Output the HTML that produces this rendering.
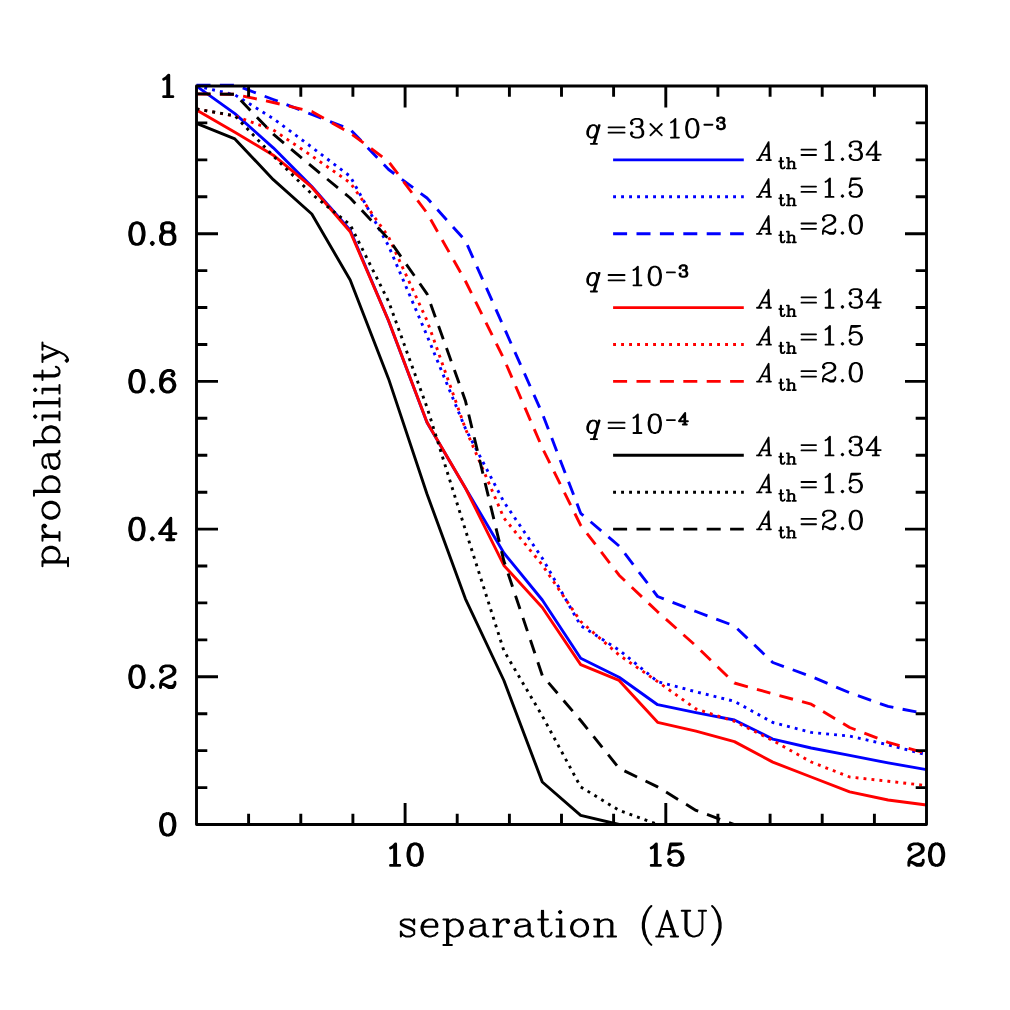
<!DOCTYPE html>
<html><head><meta charset="utf-8"><title>probability vs separation</title>
<style>html,body{margin:0;padding:0;background:#fff}body{width:1010px;height:1010px;overflow:hidden}svg{display:block}.h text{font-family:"Liberation Serif",serif;fill:#000;fill-opacity:0;stroke:none}.h .s{font-family:"Liberation Sans",sans-serif}.t{fill:none;stroke:#000;stroke-linecap:round;stroke-linejoin:round}</style></head><body>
<svg width="1010" height="1010" viewBox="0 0 1010 1010">
<rect width="1010" height="1010" fill="#fff"/>
<defs>
<clipPath id="c"><rect x="195.0" y="83.5" width="733.0" height="742.5"/></clipPath>

</defs>
<g clip-path="url(#c)" fill="none" stroke-linejoin="round" stroke-linecap="butt">
<polyline points="196.5,86.1 234.9,113.6 273.3,147.8 311.8,186.4 350.2,230.3 388.6,320.9 427.0,422.4 465.4,488.0 503.9,553.0 542.3,600.0 580.7,658.2 619.1,677.2 657.6,704.7 696.0,712.6 734.4,720.0 772.8,739.1 811.2,748.0 849.7,755.4 888.1,762.9 926.5,769.6" stroke="#0000ff" stroke-width="2.9" />
<polyline points="196.5,86.0 234.9,94.8 273.3,118.6 311.8,147.2 350.2,176.4 388.6,246.0 427.0,335.6 465.4,428.5 503.9,502.0 542.3,558.2 580.7,625.6 619.1,650.0 657.6,681.6 696.0,691.8 734.4,701.3 772.8,722.5 811.2,732.4 849.7,736.1 888.1,744.8 926.5,754.7" stroke="#0000ff" stroke-width="2.9" stroke-dasharray="2.9 5.1"/>
<polyline points="196.5,85.0 234.9,85.0 273.3,99.5 311.8,114.5 350.2,129.4 388.6,169.5 427.0,198.0 465.4,240.7 503.9,327.3 542.3,413.5 580.7,513.3 619.1,546.0 657.6,596.5 696.0,611.5 734.4,625.9 772.8,662.5 811.2,676.5 849.7,692.8 888.1,706.4 926.5,713.9" stroke="#0000ff" stroke-width="2.9" stroke-dasharray="14 9.4"/>
<polyline points="196.5,110.0 234.9,132.2 273.3,155.2 311.8,187.2 350.2,231.8 388.6,320.7 427.0,422.2 465.4,488.0 503.9,565.4 542.3,607.5 580.7,664.6 619.1,680.4 657.6,722.3 696.0,731.2 734.4,741.6 772.8,762.1 811.2,777.0 849.7,791.8 888.1,800.0 926.5,805.0" stroke="#ff0000" stroke-width="2.9" />
<polyline points="196.5,109.0 234.9,116.0 273.3,130.0 311.8,155.9 350.2,182.8 388.6,237.0 427.0,320.5 465.4,428.6 503.9,518.0 542.3,565.0 580.7,621.5 619.1,655.0 657.6,681.6 696.0,709.0 734.4,721.3 772.8,740.5 811.2,762.0 849.7,777.0 888.1,781.2 926.5,785.6" stroke="#ff0000" stroke-width="2.9" stroke-dasharray="2.9 5.1"/>
<polyline points="196.5,94.0 234.9,94.3 273.3,102.5 311.8,111.5 350.2,133.1 388.6,161.5 427.0,213.0 465.4,281.0 503.9,358.9 542.3,447.9 580.7,525.3 619.1,575.2 657.6,611.8 696.0,645.9 734.4,683.0 772.8,693.8 811.2,704.2 849.7,727.5 888.1,742.3 926.5,753.5" stroke="#ff0000" stroke-width="2.9" stroke-dasharray="14 9.4"/>
<polyline points="196.5,123.3 234.9,138.9 273.3,179.7 311.8,214.0 350.2,280.0 388.6,378.9 427.0,494.0 465.4,598.8 503.9,680.5 542.3,782.0 580.7,815.3 619.1,824.5" stroke="#000000" stroke-width="2.9" />
<polyline points="196.5,108.9 234.9,115.8 273.3,156.0 311.8,194.0 350.2,224.8 388.6,301.5 427.0,407.3 465.4,530.0 503.9,650.8 542.3,716.0 580.7,786.9 619.1,810.4 657.6,824.5" stroke="#000000" stroke-width="2.9" stroke-dasharray="2.9 5.1"/>
<polyline points="196.5,93.9 234.9,94.3 273.3,134.2 311.8,166.4 350.2,198.0 388.6,239.0 427.0,293.8 465.4,400.7 503.9,561.0 542.3,675.5 580.7,720.5 619.1,768.3 657.6,786.9 696.0,810.4 734.4,824.5" stroke="#000000" stroke-width="2.9" stroke-dasharray="14 9.4"/>
</g>
<path d="M248.6,824.5v-10.8M248.6,86.0v10.8M300.8,824.5v-10.8M300.8,86.0v10.8M352.9,824.5v-10.8M352.9,86.0v10.8M405.1,824.5v-21.5M405.1,86.0v21.5M457.2,824.5v-10.8M457.2,86.0v10.8M509.4,824.5v-10.8M509.4,86.0v10.8M561.5,824.5v-10.8M561.5,86.0v10.8M613.6,824.5v-10.8M613.6,86.0v10.8M665.8,824.5v-21.5M665.8,86.0v21.5M717.9,824.5v-10.8M717.9,86.0v10.8M770.1,824.5v-10.8M770.1,86.0v10.8M822.2,824.5v-10.8M822.2,86.0v10.8M874.4,824.5v-10.8M874.4,86.0v10.8M196.5,787.6h10.8M926.5,787.6h-10.8M196.5,750.6h10.8M926.5,750.6h-10.8M196.5,713.7h10.8M926.5,713.7h-10.8M196.5,676.8h21.5M926.5,676.8h-21.5M196.5,639.9h10.8M926.5,639.9h-10.8M196.5,602.9h10.8M926.5,602.9h-10.8M196.5,566.0h10.8M926.5,566.0h-10.8M196.5,529.1h21.5M926.5,529.1h-21.5M196.5,492.2h10.8M926.5,492.2h-10.8M196.5,455.2h10.8M926.5,455.2h-10.8M196.5,418.3h10.8M926.5,418.3h-10.8M196.5,381.4h21.5M926.5,381.4h-21.5M196.5,344.5h10.8M926.5,344.5h-10.8M196.5,307.5h10.8M926.5,307.5h-10.8M196.5,270.6h10.8M926.5,270.6h-10.8M196.5,233.7h21.5M926.5,233.7h-21.5M196.5,196.8h10.8M926.5,196.8h-10.8M196.5,159.9h10.8M926.5,159.9h-10.8M196.5,122.9h10.8M926.5,122.9h-10.8" stroke="#000" stroke-width="2.9" fill="none"/>
<rect x="196.5" y="86.0" width="730.0" height="738.5" fill="none" stroke="#000" stroke-width="2.9" stroke-linejoin="round"/>
<path class="t" transform="translate(157.46,835.15) scale(1.0270)" stroke-width="2.824" d="M9,-21L7,-20 6,-19 5,-17 4,-12 4,-9 5,-4 6,-2 7,-1 9,0 6,-1 4,-4 3,-9 3,-12 4,-17 6,-20 9,-21 11,-21 13,-20 14,-19 15,-17 16,-12 16,-9 15,-4 14,-2 13,-1 11,0 14,-1 16,-4 17,-9 17,-12 16,-17 14,-20 11,-21M9,0L11,0"/>
<path class="t" transform="translate(126.65,687.45) scale(1.0270)" stroke-width="2.824" d="M9,-21L7,-20 6,-19 5,-17 4,-12 4,-9 5,-4 6,-2 7,-1 9,0 6,-1 4,-4 3,-9 3,-12 4,-17 6,-20 9,-21 11,-21 13,-20 14,-19 15,-17 16,-12 16,-9 15,-4 14,-2 13,-1 11,0 14,-1 16,-4 17,-9 17,-12 16,-17 14,-20 11,-21M9,0L11,0M25,-2L24,-1 25,0 26,-1 25,-2M34,-17L35,-16 34,-15 33,-16 33,-17 34,-19 35,-20 38,-21 42,-21 44,-20 45,-19 46,-17 46,-15 45,-13 42,-11 36,-8 34,-6 33,-3 33,0M38,-9L43,-11 46,-13 47,-15 47,-17 46,-19 45,-20 42,-21M47,-5L47,-3 46,-2 44,-1 41,-1 36,-3 34,-3 33,-2M47,-3L46,-1 45,0 41,0 36,-3"/>
<path class="t" transform="translate(126.65,539.75) scale(1.0270)" stroke-width="2.824" d="M9,-21L7,-20 6,-19 5,-17 4,-12 4,-9 5,-4 6,-2 7,-1 9,0 6,-1 4,-4 3,-9 3,-12 4,-17 6,-20 9,-21 11,-21 13,-20 14,-19 15,-17 16,-12 16,-9 15,-4 14,-2 13,-1 11,0 14,-1 16,-4 17,-9 17,-12 16,-17 14,-20 11,-21M9,0L11,0M25,-2L24,-1 25,0 26,-1 25,-2M43,0L43,-21 32,-6 48,-6M42,-19L42,0M39,0L46,0"/>
<path class="t" transform="translate(126.65,392.05) scale(1.0270)" stroke-width="2.824" d="M9,-21L7,-20 6,-19 5,-17 4,-12 4,-9 5,-4 6,-2 7,-1 9,0 6,-1 4,-4 3,-9 3,-12 4,-17 6,-20 9,-21 11,-21 13,-20 14,-19 15,-17 16,-12 16,-9 15,-4 14,-2 13,-1 11,0 14,-1 16,-4 17,-9 17,-12 16,-17 14,-20 11,-21M9,0L11,0M25,-2L24,-1 25,0 26,-1 25,-2M45,-18L44,-17 45,-16 46,-17 46,-18 45,-20 43,-21 40,-21 37,-20 35,-18 34,-16 33,-12 33,-6 34,-3 36,-1 39,0 37,-1 35,-3 34,-6 34,-12 35,-16 36,-18 38,-20 40,-21M34,-7L35,-10 37,-12 40,-13 41,-13 43,-12 45,-10 46,-7 46,-6 45,-3 43,-1 41,0 44,-1 46,-3 47,-6 47,-7 46,-10 44,-12 41,-13M39,0L41,0"/>
<path class="t" transform="translate(126.65,244.35) scale(1.0270)" stroke-width="2.824" d="M9,-21L7,-20 6,-19 5,-17 4,-12 4,-9 5,-4 6,-2 7,-1 9,0 6,-1 4,-4 3,-9 3,-12 4,-17 6,-20 9,-21 11,-21 13,-20 14,-19 15,-17 16,-12 16,-9 15,-4 14,-2 13,-1 11,0 14,-1 16,-4 17,-9 17,-12 16,-17 14,-20 11,-21M9,0L11,0M25,-2L24,-1 25,0 26,-1 25,-2M38,-21L36,-20 35,-18 35,-15 36,-13 38,-12 35,-13 34,-15 34,-18 35,-20 38,-21 42,-21 44,-20 45,-18 45,-15 44,-13 42,-12 45,-13 46,-15 46,-18 45,-20 42,-21M38,-12L36,-11 35,-10 34,-8 34,-4 35,-2 36,-1 38,0 35,-1 34,-2 33,-4 33,-8 34,-10 35,-11 38,-12 42,-12 44,-11 45,-10 46,-8 46,-4 45,-2 44,-1 42,0 45,-1 46,-2 47,-4 47,-8 46,-10 45,-11 42,-12M38,0L42,0"/>
<path class="t" transform="translate(157.46,96.65) scale(1.0270)" stroke-width="2.824" d="M11,0L11,-21 8,-18 6,-17M10,-20L10,0M6,0L15,0"/>
<path class="t" transform="translate(384.33,865.40) scale(1.0270)" stroke-width="2.824" d="M11,0L11,-21 8,-18 6,-17M10,-20L10,0M6,0L15,0M29,-21L27,-20 26,-19 25,-17 24,-12 24,-9 25,-4 26,-2 27,-1 29,0 26,-1 24,-4 23,-9 23,-12 24,-17 26,-20 29,-21 31,-21 33,-20 34,-19 35,-17 36,-12 36,-9 35,-4 34,-2 33,-1 31,0 34,-1 36,-4 37,-9 37,-12 36,-17 34,-20 31,-21M29,0L31,0"/>
<path class="t" transform="translate(645.05,865.40) scale(1.0270)" stroke-width="2.824" d="M11,0L11,-21 8,-18 6,-17M10,-20L10,0M6,0L15,0M25,-20L30,-20 35,-21 25,-21 23,-11 25,-13 28,-14 31,-14 33,-13 35,-11 36,-8 36,-6 35,-3 33,-1 31,0 34,-1 36,-3 37,-6 37,-8 36,-11 34,-13 31,-14M24,-4L25,-5 24,-6 23,-5 23,-4 24,-2 25,-1 28,0 31,0"/>
<path class="t" transform="translate(905.76,865.40) scale(1.0270)" stroke-width="2.824" d="M4,-17L5,-16 4,-15 3,-16 3,-17 4,-19 5,-20 8,-21 12,-21 14,-20 15,-19 16,-17 16,-15 15,-13 12,-11 6,-8 4,-6 3,-3 3,0M8,-9L13,-11 16,-13 17,-15 17,-17 16,-19 15,-20 12,-21M17,-5L17,-3 16,-2 14,-1 11,-1 6,-3 4,-3 3,-2M17,-3L16,-1 15,0 11,0 6,-3M29,-21L27,-20 26,-19 25,-17 24,-12 24,-9 25,-4 26,-2 27,-1 29,0 26,-1 24,-4 23,-9 23,-12 24,-17 26,-20 29,-21 31,-21 33,-20 34,-19 35,-17 36,-12 36,-9 35,-4 34,-2 33,-1 31,0 34,-1 36,-4 37,-9 37,-12 36,-17 34,-20 31,-21M29,0L31,0"/>
<path class="t" transform="translate(397.18,936.40) scale(1.2160)" stroke-width="1.645" d="M3,-11L4,-10 6,-9 11,-7 13,-6 14,-5 14,-2 13,-1 11,0 7,0 5,-1 4,-2 3,-4 3,0 4,-2M14,-4L13,-5 11,-6 6,-8 4,-9 3,-10 3,-12 4,-13 6,-14 10,-14 12,-13 13,-12 14,-14 14,-10 13,-12M32,-8L32,-11 31,-13 29,-14 26,-14 23,-13 21,-11 20,-8 20,-6 21,-3 23,-1 26,0 24,-1 22,-3 21,-6 21,-8 22,-11 24,-13 26,-14M33,-3L31,-1 28,0 26,0M21,-8L33,-8 33,-10 32,-12 31,-13M38,-14L42,-14 42,7M41,-14L41,7M42,-11L44,-13 46,-14 48,-14 50,-13 52,-11 53,-8 53,-6 52,-3 50,-1 48,0 51,-1 53,-3 54,-6 54,-8 53,-11 51,-13 48,-14M42,-3L44,-1 46,0 48,0M38,7L45,7M62,-12L62,-11 61,-11 61,-12 62,-13 64,-14 68,-14 70,-13 71,-12 72,-10 72,-3 73,-1 74,0 72,-1 71,-3 71,-12M71,-10L70,-9 64,-8 61,-7 60,-5 60,-3 61,-1 64,0 62,-1 61,-3 61,-5 62,-7 64,-8M75,0L74,0M64,0L67,0 69,-1 71,-3M79,-14L83,-14 83,0M82,-14L82,0M91,-13L90,-12 91,-11 92,-12 92,-13 91,-14 88,-14 86,-13 84,-11 83,-8M79,0L86,0M99,-12L99,-11 98,-11 98,-12 99,-13 101,-14 105,-14 107,-13 108,-12 109,-10 109,-3 110,-1 111,0 109,-1 108,-3 108,-12M108,-10L107,-9 101,-8 98,-7 97,-5 97,-3 98,-1 101,0 99,-1 98,-3 98,-5 99,-7 101,-8M112,0L111,0M101,0L104,0 106,-1 108,-3M119,-21L119,-4 120,-1 122,0 121,-1 120,-4 120,-21M116,-14L124,-14M127,-3L126,-1 124,0 122,0M131,-14L135,-14 135,0M134,-14L134,0M131,0L138,0M134,-21L133,-20 134,-19 135,-20 134,-21M149,-14L147,-13 145,-11 144,-8 144,-6 145,-3 147,-1 149,0 146,-1 144,-3 143,-6 143,-8 144,-11 146,-13 149,-14 151,-14 153,-13 155,-11 156,-8 156,-6 155,-3 153,-1 151,0 154,-1 156,-3 157,-6 157,-8 156,-11 154,-13 151,-14M149,0L151,0M162,-14L166,-14 166,0M165,-14L165,0M166,-11L168,-13 171,-14 173,-14 175,-13 176,-11 176,0M177,0L177,-11 176,-13 173,-14M162,0L169,0M173,0L180,0M209,-25L207,-23 205,-20 203,-16 202,-11 202,-7 203,-2 205,2 207,5 205,1 204,-2 203,-7 203,-11 204,-16 205,-19 207,-23M209,7L207,5M215,0L222,-21 229,0M222,-18L228,0M217,-6L226,-6M213,0L219,0M225,0L231,0M234,-21L241,-21M237,-21L237,-6 238,-3 240,-1 243,0 241,-1 239,-3 238,-6 238,-21M248,-21L254,-21M251,-21L251,-6 250,-3 248,-1 245,0 243,0M259,-25L261,-23 263,-20 265,-16 266,-11 266,-7 265,-2 263,2 261,5 263,1 264,-2 265,-7 265,-11 264,-16 263,-19 261,-23M259,7L261,5"/>
<path class="t" transform="translate(59.50,568.60) rotate(-90) scale(1.2160)" stroke-width="1.645" d="M2,-14L6,-14 6,7M5,-14L5,7M6,-11L8,-13 10,-14 12,-14 14,-13 16,-11 17,-8 17,-6 16,-3 14,-1 12,0 15,-1 17,-3 18,-6 18,-8 17,-11 15,-13 12,-14M6,-3L8,-1 10,0 12,0M2,7L9,7M23,-14L27,-14 27,0M26,-14L26,0M35,-13L34,-12 35,-11 36,-12 36,-13 35,-14 32,-14 30,-13 28,-11 27,-8M23,0L30,0M47,-14L45,-13 43,-11 42,-8 42,-6 43,-3 45,-1 47,0 44,-1 42,-3 41,-6 41,-8 42,-11 44,-13 47,-14 49,-14 51,-13 53,-11 54,-8 54,-6 53,-3 51,-1 49,0 52,-1 54,-3 55,-6 55,-8 54,-11 52,-13 49,-14M47,0L49,0M60,-21L64,-21 64,0M63,-21L63,0M64,-11L66,-13 68,-14 70,-14 72,-13 74,-11 75,-8 75,-6 74,-3 72,-1 70,0 73,-1 75,-3 76,-6 76,-8 75,-11 73,-13 70,-14M64,-3L66,-1 68,0 70,0M84,-12L84,-11 83,-11 83,-12 84,-13 86,-14 90,-14 92,-13 93,-12 94,-10 94,-3 95,-1 96,0 94,-1 93,-3 93,-12M93,-10L92,-9 86,-8 83,-7 82,-5 82,-3 83,-1 86,0 84,-1 83,-3 83,-5 84,-7 86,-8M97,0L96,0M86,0L89,0 91,-1 93,-3M101,-21L105,-21 105,0M104,-21L104,0M105,-11L107,-13 109,-14 111,-14 113,-13 115,-11 116,-8 116,-6 115,-3 113,-1 111,0 114,-1 116,-3 117,-6 117,-8 116,-11 114,-13 111,-14M105,-3L107,-1 109,0 111,0M122,-14L126,-14 126,0M125,-14L125,0M122,0L129,0M125,-21L124,-20 125,-19 126,-20 125,-21M133,-21L137,-21 137,0M136,-21L136,0M133,0L140,0M144,-14L148,-14 148,0M147,-14L147,0M144,0L151,0M147,-21L146,-20 147,-19 148,-20 147,-21M158,-21L158,-4 159,-1 161,0 160,-1 159,-4 159,-21M155,-14L163,-14M166,-3L165,-1 163,0 161,0M170,-14L176,-14M172,-14L178,0 184,-14M173,-14L178,-2M180,-14L186,-14M172,6L171,5 170,6 171,7 172,7 174,6 176,4 178,0"/>
<path class="t" transform="translate(584.55,137.59) scale(0.8900)" stroke-width="2.022" d="M16,-14L10,7M17,-14L11,7M7,7L14,7M5,-1L7,0 9,0 11,-1 13,-4 14,-7 14,-10 13,-13 11,-14 9,-14 6,-13 4,-10 3,-7 3,-4 4,-2 5,-1 4,-3 4,-7 5,-10 7,-13 9,-14"/>
<path class="t" transform="translate(605.00,137.99) scale(0.8900)" stroke-width="2.022" d="M4,-12L22,-12M4,-6L22,-6"/>
<path class="t" transform="translate(628.20,137.59) scale(0.8900)" stroke-width="2.022" d="M4,-17L5,-16 4,-15 3,-16 3,-17 4,-19 5,-20 8,-21 12,-21 14,-20 15,-18 15,-15 14,-13 12,-12 15,-13 16,-15 16,-18 15,-20 12,-21M9,-12L12,-12 14,-11 16,-9 17,-7 17,-4 16,-2 15,-1 12,0 14,-1 15,-2 16,-4 16,-7 15,-10M4,-4L5,-5 4,-6 3,-5 3,-4 4,-2 5,-1 8,0 12,0"/>
<path class="t" stroke-width="1.8" d="M650.40,123.99L661.80,135.39M650.40,135.39L661.80,123.99"/>
<path class="t" transform="translate(665.60,137.59) scale(0.8900)" stroke-width="2.022" d="M11,0L11,-21 8,-18 6,-17M10,-20L10,0M6,0L15,0M29,-21L27,-20 26,-19 25,-17 24,-12 24,-9 25,-4 26,-2 27,-1 29,0 26,-1 24,-4 23,-9 23,-12 24,-17 26,-20 29,-21 31,-21 33,-20 34,-19 35,-17 36,-12 36,-9 35,-4 34,-2 33,-1 31,0 34,-1 36,-4 37,-9 37,-12 36,-17 34,-20 31,-21M29,0L31,0"/>
<path class="t" stroke-width="1.9000000000000001" d="M704.40,124.69h8.0"/>
<path class="t" transform="translate(715.50,129.09) scale(0.5450)" stroke-width="3.853" d="M4,-17L5,-16 4,-15 3,-16 3,-17 4,-19 5,-20 8,-21 12,-21 14,-20 15,-18 15,-15 14,-13 12,-12 15,-13 16,-15 16,-18 15,-20 12,-21M9,-12L12,-12 14,-11 16,-9 17,-7 17,-4 16,-2 15,-1 12,0 14,-1 15,-2 16,-4 16,-7 15,-10M4,-4L5,-5 4,-6 3,-5 3,-4 4,-2 5,-1 8,0 12,0"/>
<path d="M613.1,159.9H743.8" stroke="#0000ff" stroke-width="2.9" fill="none" />
<path class="t" transform="translate(758.47,160.05) scale(0.7832,0.8550)" stroke-width="2.105" d="M0,0L13,-21 14,0M12,-19L13,0M4,-6L13,-6M-2,0L4,0M10,0L16,0"/>
<path class="t" transform="translate(778.10,168.55) scale(0.5100)" stroke-width="3.235" d="M5,-21L5,-4 6,-1 8,0 7,-1 6,-4 6,-21M2,-14L10,-14M13,-3L12,-1 10,0 8,0M17,-21L21,-21 21,0M20,-21L20,0M21,-11L23,-13 26,-14 28,-14 30,-13 31,-11 31,0M32,0L32,-11 31,-13 28,-14M17,0L24,0M28,0L35,0"/>
<path class="t" transform="translate(798.13,160.35) scale(0.8170,0.8900)" stroke-width="2.022" d="M4,-12L22,-12M4,-6L22,-6"/>
<path class="t" transform="translate(820.20,160.05) scale(0.8900)" stroke-width="2.022" d="M11,0L11,-21 8,-18 6,-17M10,-20L10,0M6,0L15,0M25,-2L24,-1 25,0 26,-1 25,-2M34,-17L35,-16 34,-15 33,-16 33,-17 34,-19 35,-20 38,-21 42,-21 44,-20 45,-18 45,-15 44,-13 42,-12 45,-13 46,-15 46,-18 45,-20 42,-21M39,-12L42,-12 44,-11 46,-9 47,-7 47,-4 46,-2 45,-1 42,0 44,-1 45,-2 46,-4 46,-7 45,-10M34,-4L35,-5 34,-6 33,-5 33,-4 34,-2 35,-1 38,0 42,0M63,0L63,-21 52,-6 68,-6M62,-19L62,0M59,0L66,0"/>
<path d="M613.1,196.8H743.8" stroke="#0000ff" stroke-width="2.9" fill="none" stroke-dasharray="2.9 5.1"/>
<path class="t" transform="translate(758.47,196.97) scale(0.7832,0.8550)" stroke-width="2.105" d="M0,0L13,-21 14,0M12,-19L13,0M4,-6L13,-6M-2,0L4,0M10,0L16,0"/>
<path class="t" transform="translate(778.10,205.47) scale(0.5100)" stroke-width="3.235" d="M5,-21L5,-4 6,-1 8,0 7,-1 6,-4 6,-21M2,-14L10,-14M13,-3L12,-1 10,0 8,0M17,-21L21,-21 21,0M20,-21L20,0M21,-11L23,-13 26,-14 28,-14 30,-13 31,-11 31,0M32,0L32,-11 31,-13 28,-14M17,0L24,0M28,0L35,0"/>
<path class="t" transform="translate(798.13,197.27) scale(0.8170,0.8900)" stroke-width="2.022" d="M4,-12L22,-12M4,-6L22,-6"/>
<path class="t" transform="translate(820.20,196.97) scale(0.8900)" stroke-width="2.022" d="M11,0L11,-21 8,-18 6,-17M10,-20L10,0M6,0L15,0M25,-2L24,-1 25,0 26,-1 25,-2M35,-20L40,-20 45,-21 35,-21 33,-11 35,-13 38,-14 41,-14 43,-13 45,-11 46,-8 46,-6 45,-3 43,-1 41,0 44,-1 46,-3 47,-6 47,-8 46,-11 44,-13 41,-14M34,-4L35,-5 34,-6 33,-5 33,-4 34,-2 35,-1 38,0 41,0"/>
<path d="M613.1,233.7H743.8" stroke="#0000ff" stroke-width="2.9" fill="none" stroke-dasharray="14 9.4"/>
<path class="t" transform="translate(758.47,233.90) scale(0.7832,0.8550)" stroke-width="2.105" d="M0,0L13,-21 14,0M12,-19L13,0M4,-6L13,-6M-2,0L4,0M10,0L16,0"/>
<path class="t" transform="translate(778.10,242.40) scale(0.5100)" stroke-width="3.235" d="M5,-21L5,-4 6,-1 8,0 7,-1 6,-4 6,-21M2,-14L10,-14M13,-3L12,-1 10,0 8,0M17,-21L21,-21 21,0M20,-21L20,0M21,-11L23,-13 26,-14 28,-14 30,-13 31,-11 31,0M32,0L32,-11 31,-13 28,-14M17,0L24,0M28,0L35,0"/>
<path class="t" transform="translate(798.13,234.20) scale(0.8170,0.8900)" stroke-width="2.022" d="M4,-12L22,-12M4,-6L22,-6"/>
<path class="t" transform="translate(820.20,233.90) scale(0.8900)" stroke-width="2.022" d="M4,-17L5,-16 4,-15 3,-16 3,-17 4,-19 5,-20 8,-21 12,-21 14,-20 15,-19 16,-17 16,-15 15,-13 12,-11 6,-8 4,-6 3,-3 3,0M8,-9L13,-11 16,-13 17,-15 17,-17 16,-19 15,-20 12,-21M17,-5L17,-3 16,-2 14,-1 11,-1 6,-3 4,-3 3,-2M17,-3L16,-1 15,0 11,0 6,-3M25,-2L24,-1 25,0 26,-1 25,-2M39,-21L37,-20 36,-19 35,-17 34,-12 34,-9 35,-4 36,-2 37,-1 39,0 36,-1 34,-4 33,-9 33,-12 34,-17 36,-20 39,-21 41,-21 43,-20 44,-19 45,-17 46,-12 46,-9 45,-4 44,-2 43,-1 41,0 44,-1 46,-4 47,-9 47,-12 46,-17 44,-20 41,-21M39,0L41,0"/>
<path class="t" transform="translate(584.55,285.29) scale(0.8900)" stroke-width="2.022" d="M16,-14L10,7M17,-14L11,7M7,7L14,7M5,-1L7,0 9,0 11,-1 13,-4 14,-7 14,-10 13,-13 11,-14 9,-14 6,-13 4,-10 3,-7 3,-4 4,-2 5,-1 4,-3 4,-7 5,-10 7,-13 9,-14"/>
<path class="t" transform="translate(605.00,285.69) scale(0.8900)" stroke-width="2.022" d="M4,-12L22,-12M4,-6L22,-6"/>
<path class="t" transform="translate(628.10,285.29) scale(0.8900)" stroke-width="2.022" d="M11,0L11,-21 8,-18 6,-17M10,-20L10,0M6,0L15,0M29,-21L27,-20 26,-19 25,-17 24,-12 24,-9 25,-4 26,-2 27,-1 29,0 26,-1 24,-4 23,-9 23,-12 24,-17 26,-20 29,-21 31,-21 33,-20 34,-19 35,-17 36,-12 36,-9 35,-4 34,-2 33,-1 31,0 34,-1 36,-4 37,-9 37,-12 36,-17 34,-20 31,-21M29,0L31,0"/>
<path class="t" stroke-width="1.9000000000000001" d="M666.90,272.39h8.0"/>
<path class="t" transform="translate(678.00,276.79) scale(0.5450)" stroke-width="3.853" d="M4,-17L5,-16 4,-15 3,-16 3,-17 4,-19 5,-20 8,-21 12,-21 14,-20 15,-18 15,-15 14,-13 12,-12 15,-13 16,-15 16,-18 15,-20 12,-21M9,-12L12,-12 14,-11 16,-9 17,-7 17,-4 16,-2 15,-1 12,0 14,-1 15,-2 16,-4 16,-7 15,-10M4,-4L5,-5 4,-6 3,-5 3,-4 4,-2 5,-1 8,0 12,0"/>
<path d="M613.1,307.6H743.8" stroke="#ff0000" stroke-width="2.9" fill="none" />
<path class="t" transform="translate(758.47,307.75) scale(0.7832,0.8550)" stroke-width="2.105" d="M0,0L13,-21 14,0M12,-19L13,0M4,-6L13,-6M-2,0L4,0M10,0L16,0"/>
<path class="t" transform="translate(778.10,316.25) scale(0.5100)" stroke-width="3.235" d="M5,-21L5,-4 6,-1 8,0 7,-1 6,-4 6,-21M2,-14L10,-14M13,-3L12,-1 10,0 8,0M17,-21L21,-21 21,0M20,-21L20,0M21,-11L23,-13 26,-14 28,-14 30,-13 31,-11 31,0M32,0L32,-11 31,-13 28,-14M17,0L24,0M28,0L35,0"/>
<path class="t" transform="translate(798.13,308.05) scale(0.8170,0.8900)" stroke-width="2.022" d="M4,-12L22,-12M4,-6L22,-6"/>
<path class="t" transform="translate(820.20,307.75) scale(0.8900)" stroke-width="2.022" d="M11,0L11,-21 8,-18 6,-17M10,-20L10,0M6,0L15,0M25,-2L24,-1 25,0 26,-1 25,-2M34,-17L35,-16 34,-15 33,-16 33,-17 34,-19 35,-20 38,-21 42,-21 44,-20 45,-18 45,-15 44,-13 42,-12 45,-13 46,-15 46,-18 45,-20 42,-21M39,-12L42,-12 44,-11 46,-9 47,-7 47,-4 46,-2 45,-1 42,0 44,-1 45,-2 46,-4 46,-7 45,-10M34,-4L35,-5 34,-6 33,-5 33,-4 34,-2 35,-1 38,0 42,0M63,0L63,-21 52,-6 68,-6M62,-19L62,0M59,0L66,0"/>
<path d="M613.1,344.5H743.8" stroke="#ff0000" stroke-width="2.9" fill="none" stroke-dasharray="2.9 5.1"/>
<path class="t" transform="translate(758.47,344.68) scale(0.7832,0.8550)" stroke-width="2.105" d="M0,0L13,-21 14,0M12,-19L13,0M4,-6L13,-6M-2,0L4,0M10,0L16,0"/>
<path class="t" transform="translate(778.10,353.18) scale(0.5100)" stroke-width="3.235" d="M5,-21L5,-4 6,-1 8,0 7,-1 6,-4 6,-21M2,-14L10,-14M13,-3L12,-1 10,0 8,0M17,-21L21,-21 21,0M20,-21L20,0M21,-11L23,-13 26,-14 28,-14 30,-13 31,-11 31,0M32,0L32,-11 31,-13 28,-14M17,0L24,0M28,0L35,0"/>
<path class="t" transform="translate(798.13,344.98) scale(0.8170,0.8900)" stroke-width="2.022" d="M4,-12L22,-12M4,-6L22,-6"/>
<path class="t" transform="translate(820.20,344.68) scale(0.8900)" stroke-width="2.022" d="M11,0L11,-21 8,-18 6,-17M10,-20L10,0M6,0L15,0M25,-2L24,-1 25,0 26,-1 25,-2M35,-20L40,-20 45,-21 35,-21 33,-11 35,-13 38,-14 41,-14 43,-13 45,-11 46,-8 46,-6 45,-3 43,-1 41,0 44,-1 46,-3 47,-6 47,-8 46,-11 44,-13 41,-14M34,-4L35,-5 34,-6 33,-5 33,-4 34,-2 35,-1 38,0 41,0"/>
<path d="M613.1,381.4H743.8" stroke="#ff0000" stroke-width="2.9" fill="none" stroke-dasharray="14 9.4"/>
<path class="t" transform="translate(758.47,381.60) scale(0.7832,0.8550)" stroke-width="2.105" d="M0,0L13,-21 14,0M12,-19L13,0M4,-6L13,-6M-2,0L4,0M10,0L16,0"/>
<path class="t" transform="translate(778.10,390.10) scale(0.5100)" stroke-width="3.235" d="M5,-21L5,-4 6,-1 8,0 7,-1 6,-4 6,-21M2,-14L10,-14M13,-3L12,-1 10,0 8,0M17,-21L21,-21 21,0M20,-21L20,0M21,-11L23,-13 26,-14 28,-14 30,-13 31,-11 31,0M32,0L32,-11 31,-13 28,-14M17,0L24,0M28,0L35,0"/>
<path class="t" transform="translate(798.13,381.90) scale(0.8170,0.8900)" stroke-width="2.022" d="M4,-12L22,-12M4,-6L22,-6"/>
<path class="t" transform="translate(820.20,381.60) scale(0.8900)" stroke-width="2.022" d="M4,-17L5,-16 4,-15 3,-16 3,-17 4,-19 5,-20 8,-21 12,-21 14,-20 15,-19 16,-17 16,-15 15,-13 12,-11 6,-8 4,-6 3,-3 3,0M8,-9L13,-11 16,-13 17,-15 17,-17 16,-19 15,-20 12,-21M17,-5L17,-3 16,-2 14,-1 11,-1 6,-3 4,-3 3,-2M17,-3L16,-1 15,0 11,0 6,-3M25,-2L24,-1 25,0 26,-1 25,-2M39,-21L37,-20 36,-19 35,-17 34,-12 34,-9 35,-4 36,-2 37,-1 39,0 36,-1 34,-4 33,-9 33,-12 34,-17 36,-20 39,-21 41,-21 43,-20 44,-19 45,-17 46,-12 46,-9 45,-4 44,-2 43,-1 41,0 44,-1 46,-4 47,-9 47,-12 46,-17 44,-20 41,-21M39,0L41,0"/>
<path class="t" transform="translate(584.55,432.99) scale(0.8900)" stroke-width="2.022" d="M16,-14L10,7M17,-14L11,7M7,7L14,7M5,-1L7,0 9,0 11,-1 13,-4 14,-7 14,-10 13,-13 11,-14 9,-14 6,-13 4,-10 3,-7 3,-4 4,-2 5,-1 4,-3 4,-7 5,-10 7,-13 9,-14"/>
<path class="t" transform="translate(605.00,433.39) scale(0.8900)" stroke-width="2.022" d="M4,-12L22,-12M4,-6L22,-6"/>
<path class="t" transform="translate(628.10,432.99) scale(0.8900)" stroke-width="2.022" d="M11,0L11,-21 8,-18 6,-17M10,-20L10,0M6,0L15,0M29,-21L27,-20 26,-19 25,-17 24,-12 24,-9 25,-4 26,-2 27,-1 29,0 26,-1 24,-4 23,-9 23,-12 24,-17 26,-20 29,-21 31,-21 33,-20 34,-19 35,-17 36,-12 36,-9 35,-4 34,-2 33,-1 31,0 34,-1 36,-4 37,-9 37,-12 36,-17 34,-20 31,-21M29,0L31,0"/>
<path class="t" stroke-width="1.9000000000000001" d="M666.90,420.09h8.0"/>
<path class="t" transform="translate(678.00,424.49) scale(0.5450)" stroke-width="3.853" d="M13,0L13,-21 2,-6 18,-6M12,-19L12,0M9,0L16,0"/>
<path d="M613.1,455.2H743.8" stroke="#000000" stroke-width="2.9" fill="none" />
<path class="t" transform="translate(758.47,455.45) scale(0.7832,0.8550)" stroke-width="2.105" d="M0,0L13,-21 14,0M12,-19L13,0M4,-6L13,-6M-2,0L4,0M10,0L16,0"/>
<path class="t" transform="translate(778.10,463.95) scale(0.5100)" stroke-width="3.235" d="M5,-21L5,-4 6,-1 8,0 7,-1 6,-4 6,-21M2,-14L10,-14M13,-3L12,-1 10,0 8,0M17,-21L21,-21 21,0M20,-21L20,0M21,-11L23,-13 26,-14 28,-14 30,-13 31,-11 31,0M32,0L32,-11 31,-13 28,-14M17,0L24,0M28,0L35,0"/>
<path class="t" transform="translate(798.13,455.75) scale(0.8170,0.8900)" stroke-width="2.022" d="M4,-12L22,-12M4,-6L22,-6"/>
<path class="t" transform="translate(820.20,455.45) scale(0.8900)" stroke-width="2.022" d="M11,0L11,-21 8,-18 6,-17M10,-20L10,0M6,0L15,0M25,-2L24,-1 25,0 26,-1 25,-2M34,-17L35,-16 34,-15 33,-16 33,-17 34,-19 35,-20 38,-21 42,-21 44,-20 45,-18 45,-15 44,-13 42,-12 45,-13 46,-15 46,-18 45,-20 42,-21M39,-12L42,-12 44,-11 46,-9 47,-7 47,-4 46,-2 45,-1 42,0 44,-1 45,-2 46,-4 46,-7 45,-10M34,-4L35,-5 34,-6 33,-5 33,-4 34,-2 35,-1 38,0 42,0M63,0L63,-21 52,-6 68,-6M62,-19L62,0M59,0L66,0"/>
<path d="M613.1,492.2H743.8" stroke="#000000" stroke-width="2.9" fill="none" stroke-dasharray="2.9 5.1"/>
<path class="t" transform="translate(758.47,492.38) scale(0.7832,0.8550)" stroke-width="2.105" d="M0,0L13,-21 14,0M12,-19L13,0M4,-6L13,-6M-2,0L4,0M10,0L16,0"/>
<path class="t" transform="translate(778.10,500.88) scale(0.5100)" stroke-width="3.235" d="M5,-21L5,-4 6,-1 8,0 7,-1 6,-4 6,-21M2,-14L10,-14M13,-3L12,-1 10,0 8,0M17,-21L21,-21 21,0M20,-21L20,0M21,-11L23,-13 26,-14 28,-14 30,-13 31,-11 31,0M32,0L32,-11 31,-13 28,-14M17,0L24,0M28,0L35,0"/>
<path class="t" transform="translate(798.13,492.68) scale(0.8170,0.8900)" stroke-width="2.022" d="M4,-12L22,-12M4,-6L22,-6"/>
<path class="t" transform="translate(820.20,492.38) scale(0.8900)" stroke-width="2.022" d="M11,0L11,-21 8,-18 6,-17M10,-20L10,0M6,0L15,0M25,-2L24,-1 25,0 26,-1 25,-2M35,-20L40,-20 45,-21 35,-21 33,-11 35,-13 38,-14 41,-14 43,-13 45,-11 46,-8 46,-6 45,-3 43,-1 41,0 44,-1 46,-3 47,-6 47,-8 46,-11 44,-13 41,-14M34,-4L35,-5 34,-6 33,-5 33,-4 34,-2 35,-1 38,0 41,0"/>
<path d="M613.1,529.1H743.8" stroke="#000000" stroke-width="2.9" fill="none" stroke-dasharray="14 9.4"/>
<path class="t" transform="translate(758.47,529.30) scale(0.7832,0.8550)" stroke-width="2.105" d="M0,0L13,-21 14,0M12,-19L13,0M4,-6L13,-6M-2,0L4,0M10,0L16,0"/>
<path class="t" transform="translate(778.10,537.80) scale(0.5100)" stroke-width="3.235" d="M5,-21L5,-4 6,-1 8,0 7,-1 6,-4 6,-21M2,-14L10,-14M13,-3L12,-1 10,0 8,0M17,-21L21,-21 21,0M20,-21L20,0M21,-11L23,-13 26,-14 28,-14 30,-13 31,-11 31,0M32,0L32,-11 31,-13 28,-14M17,0L24,0M28,0L35,0"/>
<path class="t" transform="translate(798.13,529.60) scale(0.8170,0.8900)" stroke-width="2.022" d="M4,-12L22,-12M4,-6L22,-6"/>
<path class="t" transform="translate(820.20,529.30) scale(0.8900)" stroke-width="2.022" d="M4,-17L5,-16 4,-15 3,-16 3,-17 4,-19 5,-20 8,-21 12,-21 14,-20 15,-19 16,-17 16,-15 15,-13 12,-11 6,-8 4,-6 3,-3 3,0M8,-9L13,-11 16,-13 17,-15 17,-17 16,-19 15,-20 12,-21M17,-5L17,-3 16,-2 14,-1 11,-1 6,-3 4,-3 3,-2M17,-3L16,-1 15,0 11,0 6,-3M25,-2L24,-1 25,0 26,-1 25,-2M39,-21L37,-20 36,-19 35,-17 34,-12 34,-9 35,-4 36,-2 37,-1 39,0 36,-1 34,-4 33,-9 33,-12 34,-17 36,-20 39,-21 41,-21 43,-20 44,-19 45,-17 46,-12 46,-9 45,-4 44,-2 43,-1 41,0 44,-1 46,-4 47,-9 47,-12 46,-17 44,-20 41,-21M39,0L41,0"/>
<g class="h" aria-hidden="false">
<text class="s" x="177" y="835.5" font-size="31" text-anchor="end">0</text>
<text class="s" x="177" y="687.8" font-size="31" text-anchor="end">0.2</text>
<text class="s" x="177" y="540.1" font-size="31" text-anchor="end">0.4</text>
<text class="s" x="177" y="392.4" font-size="31" text-anchor="end">0.6</text>
<text class="s" x="177" y="244.7" font-size="31" text-anchor="end">0.8</text>
<text class="s" x="177" y="97.0" font-size="31" text-anchor="end">1</text>
<text class="s" x="405.1" y="866" font-size="31" text-anchor="middle">10</text>
<text class="s" x="665.8" y="866" font-size="31" text-anchor="middle">15</text>
<text class="s" x="926.5" y="866" font-size="31" text-anchor="middle">20</text>
<text x="561" y="937" font-size="41" text-anchor="middle">separation (AU)</text>
<text transform="translate(60,455) rotate(-90)" font-size="41" text-anchor="middle">probability</text>
<text x="585" y="137.7" font-size="28"><tspan font-style="italic">q</tspan>=3×10<tspan dy="-8" font-size="18">−3</tspan></text>
<text x="756" y="159.9" font-size="28"><tspan font-style="italic">A</tspan><tspan dy="8" font-size="18">th</tspan><tspan dy="-8">=1.34</tspan></text>
<text x="756" y="196.8" font-size="28"><tspan font-style="italic">A</tspan><tspan dy="8" font-size="18">th</tspan><tspan dy="-8">=1.5</tspan></text>
<text x="756" y="233.7" font-size="28"><tspan font-style="italic">A</tspan><tspan dy="8" font-size="18">th</tspan><tspan dy="-8">=2.0</tspan></text>
<text x="585" y="285.4" font-size="28"><tspan font-style="italic">q</tspan>=10<tspan dy="-8" font-size="18">−3</tspan></text>
<text x="756" y="307.6" font-size="28"><tspan font-style="italic">A</tspan><tspan dy="8" font-size="18">th</tspan><tspan dy="-8">=1.34</tspan></text>
<text x="756" y="344.5" font-size="28"><tspan font-style="italic">A</tspan><tspan dy="8" font-size="18">th</tspan><tspan dy="-8">=1.5</tspan></text>
<text x="756" y="381.4" font-size="28"><tspan font-style="italic">A</tspan><tspan dy="8" font-size="18">th</tspan><tspan dy="-8">=2.0</tspan></text>
<text x="585" y="433.1" font-size="28"><tspan font-style="italic">q</tspan>=10<tspan dy="-8" font-size="18">−4</tspan></text>
<text x="756" y="455.2" font-size="28"><tspan font-style="italic">A</tspan><tspan dy="8" font-size="18">th</tspan><tspan dy="-8">=1.34</tspan></text>
<text x="756" y="492.2" font-size="28"><tspan font-style="italic">A</tspan><tspan dy="8" font-size="18">th</tspan><tspan dy="-8">=1.5</tspan></text>
<text x="756" y="529.1" font-size="28"><tspan font-style="italic">A</tspan><tspan dy="8" font-size="18">th</tspan><tspan dy="-8">=2.0</tspan></text>
</g>
</svg></body></html>
